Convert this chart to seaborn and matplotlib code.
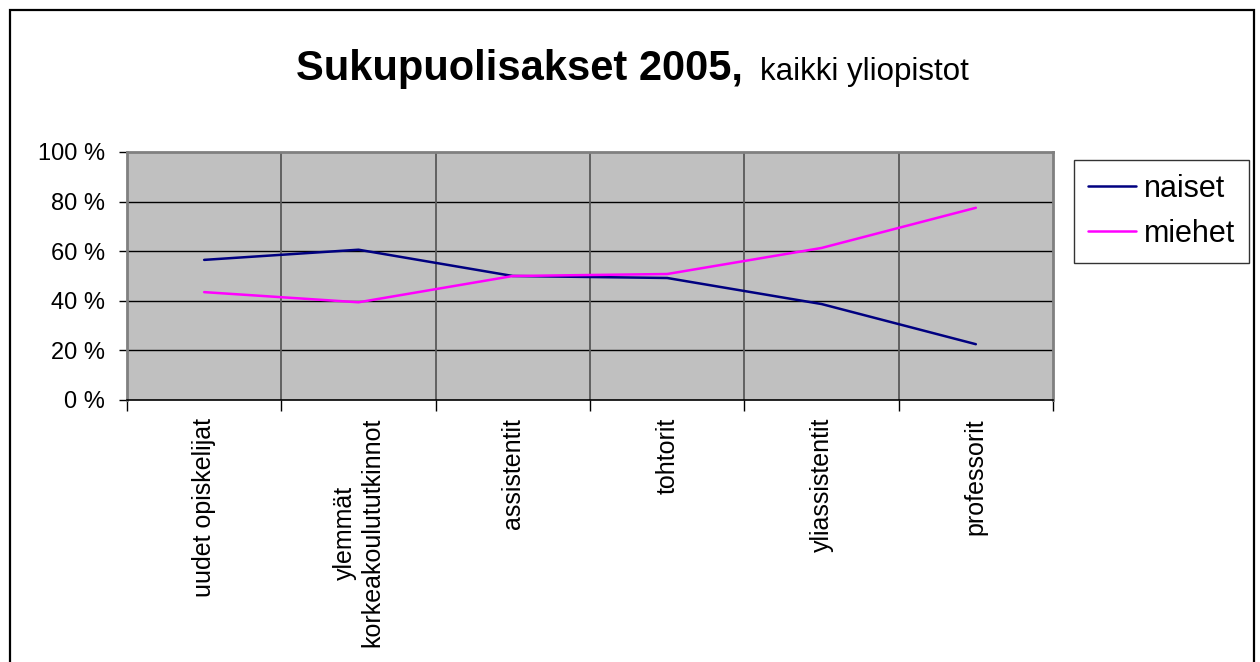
import numpy as np
import pandas as pd
import matplotlib
matplotlib.use("Agg")
import matplotlib.pyplot as plt
import seaborn as sns
from matplotlib.patches import Rectangle

categories = ["uudet opiskelijat", "ylemmät\nkorkeakoulututkinnot", "assistentit",
              "tohtorit", "yliassistentit", "professorit"]
naiset = [56.5, 60.6, 50.0, 49.2, 38.7, 22.5]
miehet = [43.5, 39.4, 50.0, 50.8, 61.3, 77.5]
series_names = ["naiset", "miehet"]
yticks = [0, 20, 40, 60, 80, 100]
ytick_labels = ["0 %", "20 %", "40 %", "60 %", "80 %", "100 %"]

sns.set_theme(style="white")
plt.rcParams['font.family'] = ['Liberation Sans', 'DejaVu Sans']
plt.rcParams['text.color'] = 'black'
plt.rcParams['xtick.color'] = 'black'
plt.rcParams['ytick.color'] = 'black'
plt.rcParams['axes.labelcolor'] = 'black'

pos = np.arange(len(categories))
df = pd.DataFrame({
    "pos": np.concatenate([pos, pos]),
    "value": naiset + miehet,
    "series": [series_names[0]] * len(pos) + [series_names[1]] * len(pos),
})

fig = plt.figure(figsize=(12.6, 6.62), dpi=100)
fig.patch.set_facecolor("white")
ax = fig.add_axes([127 / 1260, 1 - 400 / 662, (1053 - 127) / 1260, (400 - 152) / 662])
ax.set_facecolor("#C0C0C0")

sns.lineplot(data=df, x="pos", y="value", hue="series",
             palette={"naiset": "#000080", "miehet": "#FF00FF"},
             linewidth=1.8, ax=ax, sort=False, legend=True)

ax.set_xlim(-0.5, len(categories) - 0.5)
ax.set_ylim(0, 100)
ax.set_xlabel("")
ax.set_ylabel("")

# y axis
ax.set_yticks(yticks)
ax.set_yticklabels(ytick_labels, fontsize=17, color="black")
ax.tick_params(axis="y", which="major", direction="out", length=6, width=1,
               color="black", pad=10, left=True, labelcolor="black")
# x axis: boundaries as major ticks, labels on minor ticks
ax.set_xticks(np.arange(-0.5, len(categories), 1.0))
ax.set_xticklabels([])
ax.tick_params(axis="x", which="major", direction="out", length=8, width=1,
               color="black", bottom=True)
ax.set_xticks(pos, minor=True)
ax.set_xticklabels(categories, minor=True, rotation=90, fontsize=18,
                   ha="center", va="top", multialignment="center", color="black")
ax.tick_params(axis="x", which="minor", length=0, pad=13)

ax.grid(False)
for y in yticks[1:-1]:
    ax.axhline(y, color="black", linewidth=1.0, zorder=1)
for x in np.arange(0.5, len(categories) - 0.5, 1.0):
    ax.axvline(x, color="#5a5a5a", linewidth=1.3, zorder=1)
for line in ax.get_lines()[:2]:
    line.set_zorder(3)

for s in ["left", "top", "right"]:
    ax.spines[s].set_color("#808080")
    ax.spines[s].set_linewidth(2)
ax.spines["bottom"].set_color("black")
ax.spines["bottom"].set_linewidth(1.2)

leg = ax.legend(loc="upper left", bbox_to_anchor=(1.0227, 0.968), borderaxespad=0,
                fontsize=22, frameon=True, fancybox=False, edgecolor="black",
                handlelength=1.57, handletextpad=0.28, labelspacing=0.5,
                borderpad=0.45, title=None)
leg.get_frame().set_linewidth(1.0)
leg.get_frame().set_facecolor("white")
for h in leg.get_lines():
    h.set_linewidth(1.8)
for t in leg.get_texts():
    t.set_color("black")

# title
fig.text(296 / 1260, 1 - 80 / 662, "Sukupuolisakset 2005,", fontsize=30,
         fontweight="bold", color="black", ha="left", va="baseline")
fig.text(760 / 1260, 1 - 80 / 662, "kaikki yliopistot", fontsize=22.5,
         color="black", ha="left", va="baseline")

# outer chart border
fig.patches.append(Rectangle((10 / 1260, -0.05), (1254 - 10) / 1260, 1.05 - 10 / 662,
                             transform=fig.transFigure, fill=False,
                             edgecolor="black", linewidth=1.6, figure=fig))

fig.savefig("out.png", dpi=100)
